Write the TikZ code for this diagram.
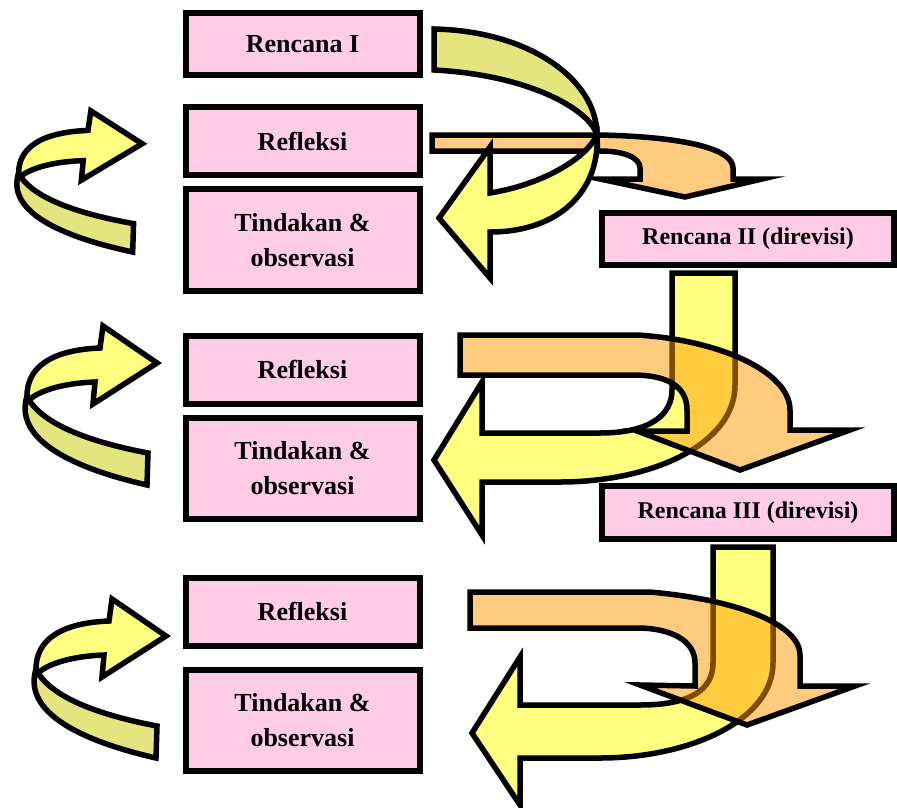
\documentclass[tikz,border=0pt]{standalone}
\usepackage{fontspec}
\setmainfont{Liberation Serif}
\usetikzlibrary{positioning}
\definecolor{stagepink}{RGB}{255,204,230}
\definecolor{ylight}{RGB}{255,255,128}
\definecolor{ydark}{RGB}{229,229,128}
\definecolor{orangeband}{RGB}{255,153,0}

\begin{document}
\begin{tikzpicture}[
    x=1pt, y=-1pt,
    stage/.style={draw=black, fill=stagepink, line width=6pt, minimum width=234pt, minimum height=68pt,
      align=center, font=\bfseries\fontsize{26}{35}\selectfont},
    actstage/.style={stage, minimum height=101.5pt},
    planstage/.style={stage, minimum width=292pt, minimum height=52.5pt, font=\bfseries\fontsize{24}{30}\selectfont},
    bandlight/.style={draw=black, fill=ylight, line width=5.5pt, line join=miter},
    banddark/.style={bandlight, fill=ydark},
    bandorange/.style={draw=black, fill=orangeband, fill opacity=0.5, line width=5.5pt, line join=miter},
    pics/turnarrow/.style={code={
      \draw[banddark] (27,86) .. controls (15,125) and (60,155) .. (147,175) -- (148,143)
        .. controls (90,132) and (45,115) .. (29,90) -- cycle;
      \draw[bandlight] (29,90) -- (27,86) .. controls (27,58) and (50,40) .. (100,38) -- (103,16)
        -- (157,53) -- (93,94) -- (95,72) .. controls (65,73) and (40,80) .. (29,90) -- cycle;
    }}
  ]
  \useasboundingbox (0,0) rectangle (897,807);

  % loop-back arrows on the left
  \pic[xscale=0.95, yscale=0.8875] at (-7,96.7) {turnarrow};
  \pic at (0,310) {turnarrow};
  \pic at (9,583) {turnarrow};

  % Cycle 1
  \node[stage, minimum height=62.5pt] (plan1) at (302.5,44) {Rencana I};
  \node[stage, below=26pt of plan1] (refl1) {Refleksi};
  \node[actstage, below=8pt of refl1] (act1) {Tindakan \&\\observasi};

  % Cycle 2
  \node[planstage] (plan2) at (748,239) {Rencana II (direvisi)};
  \node[stage] (refl2) at (302.5,369.5) {Refleksi};
  \node[actstage, below=8pt of refl2] (act2) {Tindakan \&\\observasi};

  % Cycle 3
  \node[planstage] (plan3) at (748,512.5) {Rencana III (direvisi)};
  \node[stage] (refl3) at (302.5,611.5) {Refleksi};
  \node[actstage, below=18pt of refl3] (act3) {Tindakan \&\\observasi};

  % Refleksi -> Rencana II
  \draw[bandorange] (432,135) -- (600,135) .. controls (690,137) and (733,150) .. (733,168) -- (733,179)
    -- (762,179) -- (685,197) -- (600,179) -- (640,179) -- (640,168)
    .. controls (640,158) and (625,151) .. (600,151) -- (432,151) -- cycle;
  % Rencana I -> Tindakan
  \draw[banddark] (434,29) .. controls (530,31) and (597,80) .. (597,135)
    .. controls (590,110) and (530,75) .. (434,70) -- cycle;
  \draw[bandlight] (597,135) .. controls (600,190) and (560,232) .. (490,232) -- (490,278) -- (439,218)
    -- (490,147) -- (490,193) .. controls (540,185) and (585,160) .. (597,135) -- cycle;

  % Rencana II -> Tindakan, Refleksi -> Rencana III
  \draw[bandlight] (672,273) -- (735,273) -- (735,385) .. controls (735,445) and (650,482) .. (560,482)
    -- (482,482) -- (482,535) -- (434,460) -- (482,382) -- (482,433) -- (600,433)
    .. controls (650,433) and (672,415) .. (672,390) -- cycle;
  \draw[bandorange] (460,335) -- (637,335) .. controls (720,340) and (790,372) .. (790,410) -- (790,430)
    -- (850,430) -- (740,470) -- (637,431) -- (687,431) -- (687,410)
    .. controls (687,385) and (665,375) .. (633,375) -- (460,375) -- cycle;

  % Rencana III -> Tindakan, Refleksi -> next
  \draw[bandlight] (713,547) -- (773,547) -- (773,663) .. controls (773,720) and (690,758) .. (600,758)
    -- (520,758) -- (520,805) -- (472,733) -- (520,657) -- (520,705) -- (640,705)
    .. controls (690,705) and (713,690) .. (713,663) -- cycle;
  \draw[bandorange] (470,592) -- (650,592) .. controls (740,600) and (800,625) .. (800,655) -- (800,686)
    -- (855,686) -- (747,725) -- (640,685) -- (695,686) -- (695,663)
    .. controls (695,640) and (670,628) .. (637,628) -- (470,628) -- cycle;
\end{tikzpicture}
\end{document}
